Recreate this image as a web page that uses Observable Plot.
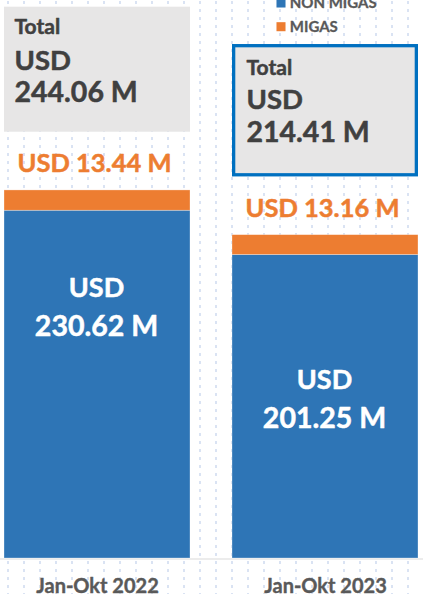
<!DOCTYPE html>
<html>
<head>
<meta charset="utf-8">
<script src="https://cdn.jsdelivr.net/npm/d3@7"></script>
<script src="https://cdn.jsdelivr.net/npm/@observablehq/plot@0.6"></script>
<style>
  html, body { margin: 0; padding: 0; background: #ffffff; }
  #chart {
    width: 423px; height: 594px; overflow: hidden;
    background-image: url("data:image/svg+xml;utf8,<svg xmlns='http://www.w3.org/2000/svg' width='16' height='8'><rect x='7' y='1' width='2' height='3' fill='%23dae3f3'/></svg>");
    background-repeat: repeat;
  }
</style>
</head>
<body>
<div id="chart"></div>
<script>
// ---- data ----
const periods = ["Jan-Okt 2022", "Jan-Okt 2023"];
const nonMigas = [230.62, 201.25];
const migas = [13.44, 13.16];
const totals = [244.06, 214.41];
const seriesNames = ["NON MIGAS", "MIGAS"];
const seriesColors = ["#2E75B6", "#ED7D31"];
const nonMigasLabels = ["230.62 M", "201.25 M"];
const migasLabels = ["USD 13.44 M", "USD 13.16 M"];
const totalLabels = ["244.06 M", "214.41 M"];

// ---- tables built from the arrays ----
const stacked = periods.flatMap((p, i) => [
  {period: p, series: seriesNames[0], value: nonMigas[i]},
  {period: p, series: seriesNames[1], value: migas[i]}
]);
const perPeriod = periods.map((p, i) => ({
  period: p, nonMigas: nonMigas[i], migas: migas[i], total: totals[i],
  nonLabel: nonMigasLabels[i], migasLabel: migasLabels[i], totalLabel: totalLabels[i]
}));

const darkText = "#404040";
const grayText = "#595959";
const heavy = c => ({fill: c, stroke: c, strokeWidth: 0.5, fontWeight: "bold"});

// callout box + its texts for one period
function totalBox(i, o) {
  const d = [perPeriod[i]];
  const top = r => r.total + o.topOff;
  const marks = [
    Plot.barY(d, {x: "period", y1: r => r.total + 38.6, y2: top, fill: "#E7E6E6",
      stroke: o.stroke || "none", strokeWidth: 3.3,
      inset: o.stroke ? 1.65 : 0})
  ];
  const t = {x: "period", y: top, textAnchor: "start", lineAnchor: "bottom", dx: o.dx,
    ...heavy(darkText)};
  marks.push(Plot.text(d, {...t, text: () => "Total", dy: o.dys[0], fontSize: 21}));
  marks.push(Plot.text(d, {...t, text: () => "USD", dy: o.dys[1], fontSize: 27.5}));
  marks.push(Plot.text(d, {...t, text: "totalLabel", dy: o.dys[2], fontSize: 28.5}));
  return marks;
}

function innerLabel(i, below) {
  const d = [perPeriod[i]];
  const common = {x: "period", y: r => r.nonMigas - below, lineAnchor: "bottom",
    ...heavy("white"), fontSize: 27, dx: -1};
  return [
    Plot.text(d, {...common, text: () => "USD"}),
    Plot.text(d, {...common, text: "nonLabel", dy: 39, fontSize: 28.5})
  ];
}

function legendItem(i) {
  return [
    Plot.dot([seriesNames[i]], {frameAnchor: "top-left", dx: 277.5, dy: 2.5 + 23.7 * i,
      symbol: "square", r: 5.1, fill: seriesColors[i], stroke: null}),
    Plot.text([seriesNames[i]], {frameAnchor: "top-left", dx: 286.3, dy: 7.3 + 23.7 * i,
      text: d => d, textAnchor: "start", lineAnchor: "bottom",
      ...heavy(grayText), strokeWidth: 0.3, fontSize: 15})
  ];
}

const chart = Plot.plot({
  width: 423,
  height: 594,
  marginTop: 0,
  marginBottom: 36,
  marginLeft: 3,
  marginRight: 4,
  style: {fontFamily: "Lato, sans-serif", background: "transparent", overflow: "visible"},
  x: {domain: periods, paddingInner: 0.183, paddingOuter: 0},
  y: {domain: [0, 370], axis: null},
  color: {domain: seriesNames, range: seriesColors},
  marks: [
    Plot.ruleY([0], {stroke: "#d9d9d9", strokeWidth: 1.2, insetLeft: -3, insetRight: -4, dy: 0.5}),
    Plot.barY(stacked, {x: "period", y: "value", fill: "series",
      stroke: "white", strokeWidth: 0.6, strokeOpacity: 0.5}),
    ...innerLabel(0, 57.3),
    ...innerLabel(1, 89),
    Plot.text(perPeriod, {x: "period", y: "total", text: "migasLabel", dy: -18, dx: -3,
      lineAnchor: "bottom", ...heavy("#ED7D31"), fontSize: 25.5}),
    ...totalBox(0, {topOff: 121.5, dx: -83, dys: [26.6, 63.3, 95]}),
    ...totalBox(1, {topOff: 126.4, dx: -79, dys: [30, 64.3, 97.7], stroke: "#0070C0"}),
    ...legendItem(0),
    ...legendItem(1),
    Plot.axisX({tickSize: 0, tickPadding: 20.5, label: null, fontSize: 20,
      fontWeight: "bold", color: grayText, textStroke: grayText, textStrokeWidth: 0.4})
  ]
});
document.getElementById("chart").appendChild(chart);
</script>
</body>
</html>
